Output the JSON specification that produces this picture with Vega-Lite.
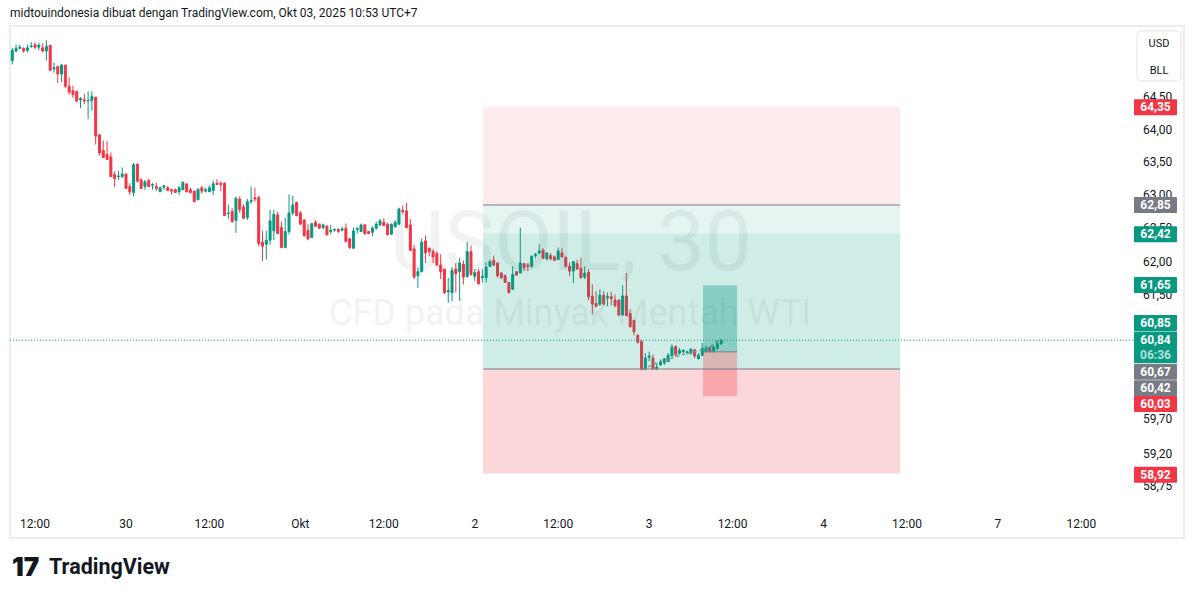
{
"$schema":"https://vega.github.io/schema/vega-lite/v6.json",
"width":1174,"height":512,
"autosize":{"type":"none"},
"padding":{"left":10,"top":26,"right":11,"bottom":60},
"background":"#ffffff",
"config":{"view":{"stroke":"#ececec","strokeWidth":2},"font":"Roboto","scale":{"continuousPadding":0}},
"data":{"values":[{"k":1}]},
"datasets":{
"candles":[
{"i":-31,"o":65.12,"h":65.14,"l":65.08,"c":65.10},
{"i":-30,"o":65.07,"h":65.27,"l":65.01,"c":65.23},
{"i":-29,"o":65.22,"h":65.32,"l":65.20,"c":65.26},
{"i":-28,"o":65.26,"h":65.32,"l":65.25,"c":65.28},
{"i":-27,"o":65.26,"h":65.28,"l":65.19,"c":65.22},
{"i":-26,"o":65.23,"h":65.32,"l":65.20,"c":65.27},
{"i":-25,"o":65.29,"h":65.36,"l":65.27,"c":65.30},
{"i":-24,"o":65.32,"h":65.35,"l":65.25,"c":65.28},
{"i":-23,"o":65.28,"h":65.35,"l":65.23,"c":65.31},
{"i":-22,"o":65.27,"h":65.34,"l":65.20,"c":65.22},
{"i":-21,"o":65.22,"h":65.39,"l":65.07,"c":65.29},
{"i":-20,"o":65.31,"h":65.31,"l":64.90,"c":64.92},
{"i":-19,"o":64.94,"h":65.04,"l":64.88,"c":64.96},
{"i":-18,"o":64.98,"h":64.98,"l":64.72,"c":64.86},
{"i":-17,"o":64.86,"h":65.02,"l":64.73,"c":65.00},
{"i":-16,"o":65.00,"h":65.00,"l":64.64,"c":64.67},
{"i":-15,"o":64.67,"h":64.81,"l":64.54,"c":64.58},
{"i":-14,"o":64.60,"h":64.68,"l":64.49,"c":64.54},
{"i":-13,"o":64.59,"h":64.60,"l":64.42,"c":64.44},
{"i":-12,"o":64.46,"h":64.50,"l":64.33,"c":64.48},
{"i":-11,"o":64.46,"h":64.55,"l":64.39,"c":64.44},
{"i":-10,"o":64.44,"h":64.59,"l":64.16,"c":64.45},
{"i":-9,"o":64.45,"h":64.59,"l":64.29,"c":64.51},
{"i":-8,"o":64.50,"h":64.50,"l":63.77,"c":63.90},
{"i":-7,"o":63.92,"h":63.92,"l":63.60,"c":63.64},
{"i":-6,"o":63.68,"h":63.83,"l":63.57,"c":63.57},
{"i":-5,"o":63.62,"h":63.82,"l":63.54,"c":63.54},
{"i":-4,"o":63.58,"h":63.65,"l":63.28,"c":63.28},
{"i":-3,"o":63.31,"h":63.36,"l":63.12,"c":63.25},
{"i":-2,"o":63.28,"h":63.37,"l":63.23,"c":63.29},
{"i":-1,"o":63.28,"h":63.42,"l":63.26,"c":63.32},
{"i":0,"o":63.32,"h":63.32,"l":63.10,"c":63.10},
{"i":1,"o":63.13,"h":63.18,"l":63.00,"c":63.05},
{"i":2,"o":63.04,"h":63.49,"l":62.98,"c":63.46},
{"i":3,"o":63.47,"h":63.48,"l":63.19,"c":63.21},
{"i":4,"o":63.23,"h":63.26,"l":63.10,"c":63.10},
{"i":5,"o":63.13,"h":63.23,"l":63.08,"c":63.20},
{"i":6,"o":63.22,"h":63.25,"l":63.13,"c":63.13},
{"i":7,"o":63.15,"h":63.18,"l":63.08,"c":63.16},
{"i":8,"o":63.13,"h":63.19,"l":63.06,"c":63.10},
{"i":9,"o":63.05,"h":63.13,"l":63.05,"c":63.11},
{"i":10,"o":63.12,"h":63.15,"l":63.08,"c":63.14},
{"i":11,"o":63.11,"h":63.14,"l":63.07,"c":63.07},
{"i":12,"o":63.08,"h":63.10,"l":63.01,"c":63.06},
{"i":13,"o":63.08,"h":63.10,"l":63.04,"c":63.04},
{"i":14,"o":63.05,"h":63.14,"l":63.00,"c":63.11},
{"i":15,"o":63.08,"h":63.21,"l":63.08,"c":63.19},
{"i":16,"o":63.17,"h":63.17,"l":63.04,"c":63.05},
{"i":17,"o":63.08,"h":63.11,"l":63.02,"c":63.04},
{"i":18,"o":63.06,"h":63.06,"l":62.90,"c":62.90},
{"i":19,"o":62.93,"h":63.10,"l":62.92,"c":63.09},
{"i":20,"o":63.11,"h":63.14,"l":63.02,"c":63.06},
{"i":21,"o":63.06,"h":63.11,"l":63.04,"c":63.08},
{"i":22,"o":63.05,"h":63.15,"l":63.05,"c":63.11},
{"i":23,"o":63.07,"h":63.22,"l":63.00,"c":63.17},
{"i":24,"o":63.18,"h":63.24,"l":63.16,"c":63.16},
{"i":25,"o":63.18,"h":63.21,"l":63.06,"c":63.16},
{"i":26,"o":63.18,"h":63.19,"l":62.69,"c":62.69},
{"i":27,"o":62.72,"h":62.85,"l":62.64,"c":62.73},
{"i":28,"o":62.75,"h":62.81,"l":62.58,"c":62.60},
{"i":29,"o":62.62,"h":62.98,"l":62.43,"c":62.95},
{"i":30,"o":62.94,"h":62.98,"l":62.73,"c":62.78},
{"i":31,"o":62.82,"h":62.86,"l":62.64,"c":62.65},
{"i":32,"o":62.66,"h":62.94,"l":62.62,"c":62.90},
{"i":33,"o":62.90,"h":63.13,"l":62.87,"c":62.92},
{"i":34,"o":62.96,"h":63.11,"l":62.90,"c":62.94},
{"i":35,"o":62.96,"h":62.99,"l":62.23,"c":62.27},
{"i":36,"o":62.29,"h":62.46,"l":62.01,"c":62.23},
{"i":37,"o":62.26,"h":62.46,"l":62.03,"c":62.32},
{"i":38,"o":62.32,"h":62.78,"l":62.25,"c":62.61},
{"i":39,"o":62.46,"h":62.78,"l":62.32,"c":62.71},
{"i":40,"o":62.70,"h":62.75,"l":62.41,"c":62.42},
{"i":41,"o":62.51,"h":62.60,"l":62.20,"c":62.21},
{"i":42,"o":62.21,"h":62.66,"l":62.20,"c":62.45},
{"i":43,"o":62.45,"h":63.01,"l":62.41,"c":62.73},
{"i":44,"o":62.73,"h":62.99,"l":62.69,"c":62.85},
{"i":45,"o":62.89,"h":62.90,"l":62.68,"c":62.69},
{"i":46,"o":62.73,"h":62.76,"l":62.56,"c":62.56},
{"i":47,"o":62.62,"h":62.64,"l":62.37,"c":62.39},
{"i":48,"o":62.47,"h":62.56,"l":62.32,"c":62.34},
{"i":49,"o":62.36,"h":62.57,"l":62.35,"c":62.57},
{"i":50,"o":62.59,"h":62.62,"l":62.52,"c":62.53},
{"i":51,"o":62.56,"h":62.57,"l":62.49,"c":62.50},
{"i":52,"o":62.51,"h":62.57,"l":62.48,"c":62.55},
{"i":53,"o":62.53,"h":62.55,"l":62.39,"c":62.40},
{"i":54,"o":62.45,"h":62.55,"l":62.41,"c":62.47},
{"i":55,"o":62.47,"h":62.50,"l":62.45,"c":62.48},
{"i":56,"o":62.48,"h":62.50,"l":62.43,"c":62.45},
{"i":57,"o":62.47,"h":62.52,"l":62.45,"c":62.49},
{"i":58,"o":62.50,"h":62.57,"l":62.29,"c":62.30},
{"i":59,"o":62.34,"h":62.36,"l":62.19,"c":62.21},
{"i":60,"o":62.20,"h":62.51,"l":62.20,"c":62.46},
{"i":61,"o":62.48,"h":62.51,"l":62.42,"c":62.50},
{"i":62,"o":62.45,"h":62.57,"l":62.44,"c":62.55},
{"i":63,"o":62.55,"h":62.56,"l":62.40,"c":62.42},
{"i":64,"o":62.45,"h":62.46,"l":62.41,"c":62.42},
{"i":65,"o":62.44,"h":62.53,"l":62.38,"c":62.50},
{"i":66,"o":62.50,"h":62.60,"l":62.48,"c":62.56},
{"i":67,"o":62.55,"h":62.64,"l":62.53,"c":62.61},
{"i":68,"o":62.59,"h":62.65,"l":62.53,"c":62.54},
{"i":69,"o":62.56,"h":62.58,"l":62.40,"c":62.40},
{"i":70,"o":62.41,"h":62.57,"l":62.40,"c":62.56},
{"i":71,"o":62.52,"h":62.62,"l":62.51,"c":62.59},
{"i":72,"o":62.56,"h":62.81,"l":62.56,"c":62.79},
{"i":73,"o":62.77,"h":62.84,"l":62.71,"c":62.75},
{"i":74,"o":62.76,"h":62.88,"l":62.50,"c":62.51},
{"i":75,"o":62.55,"h":62.64,"l":62.16,"c":62.17},
{"i":76,"o":62.19,"h":62.25,"l":61.74,"c":61.77},
{"i":77,"o":61.79,"h":61.91,"l":61.61,"c":61.85},
{"i":78,"o":61.85,"h":62.35,"l":61.84,"c":62.29},
{"i":79,"o":62.31,"h":62.39,"l":61.98,"c":62.13},
{"i":80,"o":62.20,"h":62.21,"l":62.08,"c":62.15},
{"i":81,"o":62.15,"h":62.19,"l":61.98,"c":62.07},
{"i":82,"o":62.12,"h":62.15,"l":61.93,"c":61.95},
{"i":83,"o":61.95,"h":62.11,"l":61.74,"c":61.85},
{"i":84,"o":61.89,"h":61.89,"l":61.52,"c":61.54},
{"i":85,"o":61.55,"h":61.76,"l":61.39,"c":61.57},
{"i":86,"o":61.54,"h":61.92,"l":61.41,"c":61.87},
{"i":87,"o":61.89,"h":61.98,"l":61.54,"c":61.82},
{"i":88,"o":61.85,"h":62.06,"l":61.42,"c":61.98},
{"i":89,"o":61.96,"h":62.02,"l":61.66,"c":61.77},
{"i":90,"o":61.78,"h":62.29,"l":61.76,"c":62.15},
{"i":91,"o":62.15,"h":62.24,"l":61.79,"c":61.81},
{"i":92,"o":61.78,"h":61.89,"l":61.71,"c":61.84},
{"i":93,"o":61.85,"h":61.89,"l":61.66,"c":61.67},
{"i":94,"o":61.76,"h":61.89,"l":61.69,"c":61.78},
{"i":95,"o":61.76,"h":61.99,"l":61.69,"c":61.92},
{"i":96,"o":61.93,"h":62.03,"l":61.92,"c":62.00},
{"i":97,"o":62.02,"h":62.09,"l":61.93,"c":61.95},
{"i":98,"o":61.98,"h":61.98,"l":61.76,"c":61.79},
{"i":99,"o":61.83,"h":61.84,"l":61.74,"c":61.76},
{"i":100,"o":61.79,"h":61.81,"l":61.69,"c":61.69},
{"i":101,"o":61.69,"h":61.69,"l":61.53,"c":61.54},
{"i":102,"o":61.59,"h":61.93,"l":61.58,"c":61.81},
{"i":103,"o":61.85,"h":61.86,"l":61.79,"c":61.80},
{"i":104,"o":61.83,"h":62.51,"l":61.83,"c":61.98},
{"i":105,"o":61.97,"h":61.98,"l":61.86,"c":61.91},
{"i":106,"o":61.95,"h":61.98,"l":61.86,"c":61.93},
{"i":107,"o":61.93,"h":62.09,"l":61.91,"c":62.08},
{"i":108,"o":62.09,"h":62.13,"l":62.05,"c":62.11},
{"i":109,"o":62.13,"h":62.26,"l":62.11,"c":62.16},
{"i":110,"o":62.17,"h":62.20,"l":62.04,"c":62.05},
{"i":111,"o":62.04,"h":62.13,"l":62.02,"c":62.13},
{"i":112,"o":62.09,"h":62.13,"l":62.02,"c":62.04},
{"i":113,"o":62.07,"h":62.09,"l":62.01,"c":62.02},
{"i":114,"o":62.03,"h":62.21,"l":62.03,"c":62.16},
{"i":115,"o":62.13,"h":62.20,"l":62.06,"c":62.07},
{"i":116,"o":62.06,"h":62.09,"l":61.91,"c":61.93},
{"i":117,"o":61.93,"h":61.99,"l":61.79,"c":61.86},
{"i":118,"o":61.86,"h":62.01,"l":61.68,"c":62.00},
{"i":119,"o":61.97,"h":62.03,"l":61.88,"c":61.89},
{"i":120,"o":61.90,"h":62.06,"l":61.75,"c":61.76},
{"i":121,"o":61.77,"h":61.93,"l":61.74,"c":61.83},
{"i":122,"o":61.84,"h":61.89,"l":61.43,"c":61.48},
{"i":123,"o":61.49,"h":61.66,"l":61.22,"c":61.37},
{"i":124,"o":61.38,"h":61.56,"l":61.32,"c":61.34},
{"i":125,"o":61.37,"h":61.59,"l":61.34,"c":61.50},
{"i":126,"o":61.50,"h":61.56,"l":61.35,"c":61.37},
{"i":127,"o":61.46,"h":61.54,"l":61.34,"c":61.48},
{"i":128,"o":61.48,"h":61.55,"l":61.35,"c":61.45},
{"i":129,"o":61.43,"h":61.51,"l":61.32,"c":61.35},
{"i":130,"o":61.43,"h":61.44,"l":61.19,"c":61.21},
{"i":131,"o":61.21,"h":61.65,"l":61.20,"c":61.49},
{"i":132,"o":61.49,"h":61.83,"l":61.19,"c":61.20},
{"i":133,"o":61.23,"h":61.29,"l":61.02,"c":61.04},
{"i":134,"o":61.13,"h":61.14,"l":60.91,"c":60.96},
{"i":135,"o":60.91,"h":60.93,"l":60.79,"c":60.81},
{"i":136,"o":60.82,"h":60.84,"l":60.40,"c":60.42},
{"i":137,"o":60.42,"h":60.65,"l":60.40,"c":60.58},
{"i":138,"o":60.59,"h":60.67,"l":60.53,"c":60.61},
{"i":139,"o":60.58,"h":60.63,"l":60.41,"c":60.42},
{"i":140,"o":60.42,"h":60.51,"l":60.41,"c":60.45},
{"i":141,"o":60.48,"h":60.56,"l":60.47,"c":60.52},
{"i":142,"o":60.51,"h":60.58,"l":60.48,"c":60.57},
{"i":143,"o":60.53,"h":60.65,"l":60.52,"c":60.62},
{"i":144,"o":60.61,"h":60.78,"l":60.61,"c":60.74},
{"i":145,"o":60.75,"h":60.76,"l":60.60,"c":60.63},
{"i":146,"o":60.65,"h":60.73,"l":60.63,"c":60.69},
{"i":147,"o":60.67,"h":60.71,"l":60.65,"c":60.69},
{"i":148,"o":60.66,"h":60.69,"l":60.63,"c":60.67},
{"i":149,"o":60.65,"h":60.72,"l":60.63,"c":60.71},
{"i":150,"o":60.70,"h":60.71,"l":60.58,"c":60.61},
{"i":151,"o":60.57,"h":60.65,"l":60.56,"c":60.62},
{"i":152,"o":60.62,"h":60.80,"l":60.61,"c":60.72},
{"i":153,"o":60.68,"h":60.76,"l":60.66,"c":60.73},
{"i":154,"o":60.73,"h":60.75,"l":60.66,"c":60.68},
{"i":155,"o":60.68,"h":60.77,"l":60.66,"c":60.74},
{"i":156,"o":60.72,"h":60.82,"l":60.70,"c":60.79},
{"i":157,"o":60.79,"h":60.85,"l":60.77,"c":60.84}
],
"boxes":[
{"x1":94.2,"x2":204.2,"top":64.35,"bot":62.85,"kind":"stopS"},
{"x1":94.2,"x2":204.2,"top":62.85,"bot":60.42,"kind":"tgt"},
{"x1":94.2,"x2":204.2,"top":62.42,"bot":60.42,"kind":"tgt"},
{"x1":94.2,"x2":204.2,"top":60.42,"bot":58.92,"kind":"stopL"},
{"x1":152.2,"x2":161.2,"top":61.65,"bot":60.67,"kind":"pg"},
{"x1":152.2,"x2":161.2,"top":60.67,"bot":60.03,"kind":"pr"}
],
"lines":[
{"x1":94.2,"x2":204.2,"p":62.85},
{"x1":94.2,"x2":204.2,"p":60.42},
{"x1":152.2,"x2":161.2,"p":60.67}
],
"path":[
{"i":136.3,"p":60.415},{"i":140,"p":60.51},{"i":143,"p":60.56},{"i":146,"p":60.62},{"i":149,"p":60.66},{"i":152,"p":60.70},{"i":154,"p":60.74},{"i":155,"p":60.78},{"i":156.7,"p":60.87}
],
"labels":[
{"pos":64.344,"txt":"64,35","kind":"red"},
{"pos":62.85,"txt":"62,85","kind":"gray"},
{"pos":62.409,"txt":"62,42","kind":"green"},
{"pos":61.653,"txt":"61,65","kind":"green"},
{"pos":61.092,"txt":"60,85","kind":"green"},
{"pos":60.85,"txt":"60,84","kind":"green"},
{"pos":60.624,"txt":"06:36","kind":"timer"},
{"pos":60.381,"txt":"60,67","kind":"gray"},
{"pos":60.141,"txt":"60,42","kind":"gray"},
{"pos":59.914,"txt":"60,03","kind":"red"},
{"pos":58.905,"txt":"58,92","kind":"red"}
],
"yticks":[
{"v":64.5,"t":"64,50"},{"v":64.0,"t":"64,00"},{"v":63.5,"t":"63,50"},{"v":63.0,"t":"63,00"},{"v":62.5,"t":"62,50"},{"v":62.0,"t":"62,00"},{"v":61.5,"t":"61,50"},{"v":59.7,"t":"59,70"},{"v":59.2,"t":"59,20"},{"v":58.75,"t":"58,75"}
],
"xticks":[
{"i":-24,"t":"12:00"},{"i":0,"t":"30"},{"i":22,"t":"12:00"},{"i":46,"t":"Okt"},{"i":68,"t":"12:00"},{"i":92,"t":"2"},{"i":114,"t":"12:00"},{"i":138,"t":"3"},{"i":160,"t":"12:00"},{"i":184,"t":"4"},{"i":206,"t":"12:00"},{"i":230,"t":"7"},{"i":252,"t":"12:00"}
]
},
"layer":[
{"mark":{"type":"text","align":"center","baseline":"alphabetic","fontSize":84,"fill":"rgba(120,123,134,0.1)"},
 "encoding":{"x":{"datum":117.4,"type":"quantitative","scale":{"domain":[-30.6,279.08],"nice":false,"zero":false},"axis":null},
  "y":{"datum":61.876,"type":"quantitative","scale":{"type":"log","domain":[58.015,65.613],"nice":false,"zero":false},"axis":null},
  "text":{"value":"USOIL, 30"}}},
{"mark":{"type":"text","align":"center","baseline":"alphabetic","fontSize":36,"fill":"rgba(120,123,134,0.1)"},
 "encoding":{"x":{"datum":117.1,"type":"quantitative","scale":{"domain":[-30.6,279.08],"nice":false,"zero":false},"axis":null},
  "y":{"datum":61.063,"type":"quantitative","scale":{"type":"log","domain":[58.015,65.613],"nice":false,"zero":false},"axis":null},
  "text":{"value":"CFD pada Minyak Mentah WTI"}}},
{"data":{"name":"yticks"},
 "mark":{"type":"text","align":"left","baseline":"middle","fontSize":12,"fill":"#131722"},
 "encoding":{
  "x":{"datum":268.27,"type":"quantitative","scale":{"domain":[-30.6,279.08],"nice":false,"zero":false},"axis":null},
  "y":{"field":"v","type":"quantitative","scale":{"type":"log","domain":[58.015,65.613],"nice":false,"zero":false},"axis":null},
  "text":{"field":"t"}}},
{"data":{"name":"xticks"},
 "mark":{"type":"text","align":"center","baseline":"middle","fontSize":12,"fill":"#131722"},
 "encoding":{
  "x":{"field":"i","type":"quantitative","scale":{"domain":[-30.6,279.08],"nice":false,"zero":false},"axis":null},
  "y":{"datum":58.211,"type":"quantitative","scale":{"type":"log","domain":[58.015,65.613],"nice":false,"zero":false},"axis":null},
  "text":{"field":"t"}}},
{"data":{"name":"candles"},
 "mark":{"type":"rule","clip":true,"strokeWidth":1},
 "encoding":{
  "x":{"field":"i","type":"quantitative","scale":{"domain":[-30.6,279.08],"nice":false,"zero":false},"axis":null},
  "y":{"field":"l","type":"quantitative","scale":{"type":"log","domain":[58.015,65.613],"nice":false,"zero":false},"axis":null},
  "y2":{"field":"h"},
  "stroke":{"condition":{"test":"datum.c >= datum.o","value":"#089981"},"value":"#f23645"}}},
{"data":{"name":"candles"},
 "mark":{"type":"bar","orient":"vertical","width":2,"strokeWidth":1,"clip":true},
 "encoding":{
  "x":{"field":"i","type":"quantitative","scale":{"domain":[-30.6,279.08],"nice":false,"zero":false},"axis":null},
  "y":{"field":"o","type":"quantitative","scale":{"type":"log","domain":[58.015,65.613],"nice":false,"zero":false},"axis":null},
  "y2":{"field":"c"},
  "fill":{"condition":{"test":"datum.c >= datum.o","value":"#089981"},"value":"#f23645"},
  "stroke":{"condition":{"test":"datum.c >= datum.o","value":"#089981"},"value":"#f23645"}}},
{"data":{"name":"path"},
 "mark":{"type":"line","stroke":"#9598a1","strokeWidth":1.5,"strokeDash":[3,3]},
 "encoding":{
  "x":{"field":"i","type":"quantitative","scale":{"domain":[-30.6,279.08],"nice":false,"zero":false},"axis":null},
  "y":{"field":"p","type":"quantitative","scale":{"type":"log","domain":[58.015,65.613],"nice":false,"zero":false},"axis":null}}},
{"data":{"name":"boxes"},
 "mark":{"type":"rect"},
 "encoding":{
  "x":{"field":"x1","type":"quantitative","scale":{"domain":[-30.6,279.08],"nice":false,"zero":false},"axis":null},
  "x2":{"field":"x2"},
  "y":{"field":"top","type":"quantitative","scale":{"type":"log","domain":[58.015,65.613],"nice":false,"zero":false},"axis":null},
  "y2":{"field":"bot"},
  "fill":{"condition":[
    {"test":"datum.kind=='stopS'","value":"rgba(242,54,69,0.1)"},
    {"test":"datum.kind=='tgt'","value":"rgba(8,153,129,0.1)"},
    {"test":"datum.kind=='stopL'","value":"rgba(242,54,69,0.2)"},
    {"test":"datum.kind=='pg'","value":"rgba(8,153,129,0.35)"}],
   "value":"rgba(242,54,69,0.3)"}}},
{"data":{"name":"lines"},
 "mark":{"type":"rule","stroke":"#787b86","strokeWidth":1},
 "encoding":{
  "x":{"field":"x1","type":"quantitative","scale":{"domain":[-30.6,279.08],"nice":false,"zero":false},"axis":null},
  "x2":{"field":"x2"},
  "y":{"field":"p","type":"quantitative","scale":{"type":"log","domain":[58.015,65.613],"nice":false,"zero":false},"axis":null}}},
{"mark":{"type":"rule","stroke":"#089981","strokeWidth":1,"strokeDash":[1,2]},
 "encoding":{
  "x":{"datum":-30.6,"type":"quantitative","scale":{"domain":[-30.6,279.08],"nice":false,"zero":false},"axis":null},
  "x2":{"datum":265.89},
  "y":{"datum":60.84,"type":"quantitative","scale":{"type":"log","domain":[58.015,65.613],"nice":false,"zero":false},"axis":null}}},
{"data":{"name":"labels"},
 "mark":{"type":"bar","orient":"horizontal","height":16,"cornerRadius":1},
 "encoding":{
  "x":{"datum":265.89,"type":"quantitative","scale":{"domain":[-30.6,279.08],"nice":false,"zero":false},"axis":null},
  "x2":{"datum":277.23},
  "y":{"field":"pos","type":"quantitative","scale":{"type":"log","domain":[58.015,65.613],"nice":false,"zero":false},"axis":null},
  "fill":{"condition":[
    {"test":"datum.kind=='red'","value":"#f23645"},
    {"test":"datum.kind=='gray'","value":"#787b86"}],
   "value":"#089981"}}},
{"data":{"name":"labels"},
 "mark":{"type":"text","align":"center","baseline":"middle","fontSize":12,"fontWeight":"bold"},
 "encoding":{
  "x":{"datum":271.56,"type":"quantitative","scale":{"domain":[-30.6,279.08],"nice":false,"zero":false},"axis":null},
  "y":{"field":"pos","type":"quantitative","scale":{"type":"log","domain":[58.015,65.613],"nice":false,"zero":false},"axis":null},
  "text":{"field":"txt"},
  "fill":{"condition":{"test":"datum.kind=='timer'","value":"rgba(255,255,255,0.7)"},"value":"#ffffff"}}},
{"mark":{"type":"rect","fill":"#ffffff","stroke":"#e0e3eb","strokeWidth":1,"cornerRadius":4},
 "encoding":{
  "x":{"datum":266.68,"type":"quantitative","scale":{"domain":[-30.6,279.08],"nice":false,"zero":false},"axis":null},
  "x2":{"datum":278.29},
  "y":{"datum":65.535,"type":"quantitative","scale":{"type":"log","domain":[58.015,65.613],"nice":false,"zero":false},"axis":null},
  "y2":{"datum":64.752}}},
{"mark":{"type":"text","align":"center","baseline":"middle","fontSize":11,"fill":"#131722"},
 "encoding":{
  "x":{"datum":272.49,"type":"quantitative","scale":{"domain":[-30.6,279.08],"nice":false,"zero":false},"axis":null},
  "y":{"datum":65.33,"type":"quantitative","scale":{"type":"log","domain":[58.015,65.613],"nice":false,"zero":false},"axis":null},
  "text":{"value":"USD"}}},
{"mark":{"type":"text","align":"center","baseline":"middle","fontSize":11,"fill":"#131722"},
 "encoding":{
  "x":{"datum":272.49,"type":"quantitative","scale":{"domain":[-30.6,279.08],"nice":false,"zero":false},"axis":null},
  "y":{"datum":64.907,"type":"quantitative","scale":{"type":"log","domain":[58.015,65.613],"nice":false,"zero":false},"axis":null},
  "text":{"value":"BLL"}}},
{"mark":{"type":"text","align":"left","baseline":"middle","fontSize":12,"fill":"#131722"},
 "encoding":{
  "x":{"datum":-30.6,"type":"quantitative","scale":{"domain":[-30.6,279.08],"nice":false,"zero":false},"axis":null},
  "y":{"datum":65.819,"type":"quantitative","scale":{"type":"log","domain":[58.015,65.613],"nice":false,"zero":false},"axis":null},
  "text":{"value":"midtouindonesia dibuat dengan TradingView.com, Okt 03, 2025 10:53 UTC+7"}}},
{"mark":{"type":"text","align":"left","baseline":"middle","fontSize":26,"fontWeight":900,"fill":"#131722","font":"Inter"},
 "encoding":{
  "x":{"datum":-30.1,"type":"quantitative","scale":{"domain":[-30.6,279.08],"nice":false,"zero":false},"axis":null},
  "y":{"datum":57.598,"type":"quantitative","scale":{"type":"log","domain":[58.015,65.613],"nice":false,"zero":false},"axis":null},
  "text":{"value":"17"}}},
{"mark":{"type":"text","align":"left","baseline":"middle","fontSize":21.5,"fontWeight":"bold","fill":"#131722"},
 "encoding":{
  "x":{"datum":-20.31,"type":"quantitative","scale":{"domain":[-30.6,279.08],"nice":false,"zero":false},"axis":null},
  "y":{"datum":57.598,"type":"quantitative","scale":{"type":"log","domain":[58.015,65.613],"nice":false,"zero":false},"axis":null},
  "text":{"value":"TradingView"}}}
]
}
